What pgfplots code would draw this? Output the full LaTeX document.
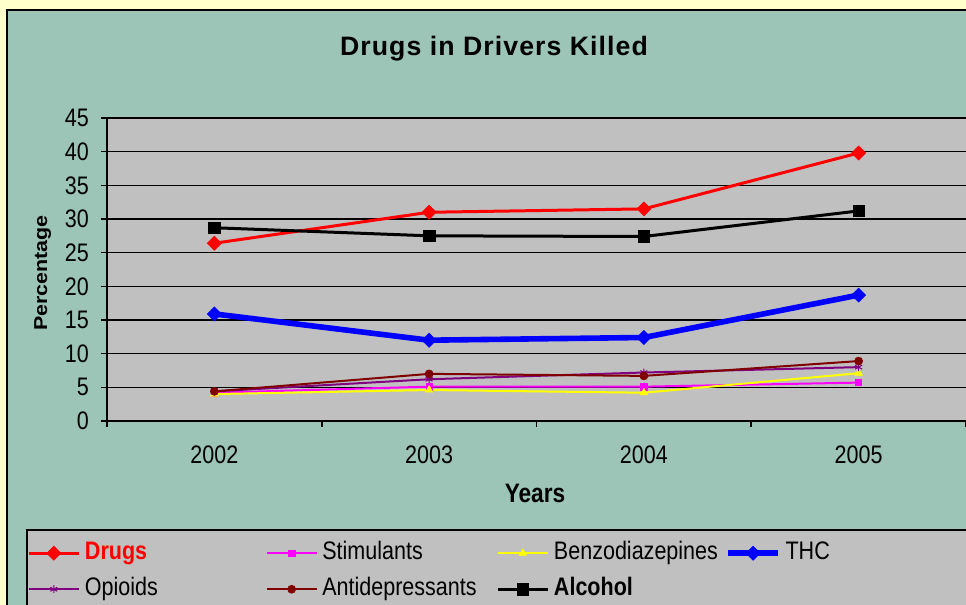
\documentclass[border=0pt]{standalone}
\usepackage{pgfplots}
\pgfplotsset{compat=1.18}
\usepackage{fontspec}
\setmainfont{Liberation Sans}[FakeStretch=0.85]
\newfontfamily\titlefont{Liberation Sans}[LetterSpace=4]
\newfontfamily\ylabfont{Liberation Sans}[FakeStretch=1.15]
\definecolor{outerbg}{HTML}{FFFFCC}
\definecolor{panel}{HTML}{9CC5B7}
\definecolor{plotgray}{HTML}{C0C0C0}
\definecolor{drugred}{HTML}{FF0000}
\definecolor{stim}{HTML}{FF00FF}
\definecolor{benzo}{HTML}{FFFF00}
\definecolor{thc}{HTML}{0000FF}
\definecolor{opioid}{HTML}{800080}
\definecolor{antidep}{HTML}{800000}
\begin{document}
\begin{tikzpicture}
\useasboundingbox (0,0) rectangle (724.5pt,453.75pt);
\clip (0,0) rectangle (724.5pt,453.75pt);
\fill[outerbg] (0,0) rectangle (724.5pt,453.75pt);
\draw[line width=1.5pt, fill=panel] (5.25pt,-10pt) rectangle (740pt,446.25pt);
\draw[line width=1.2pt, fill=plotgray] (20.25pt,-10pt) rectangle (740pt,56.25pt);
\node[font=\titlefont\bfseries\fontsize{20}{24}\selectfont, anchor=base] at (370.5pt,412pt) {Drugs in Drivers Killed};
\node[font=\bfseries\fontsize{20}{24}\selectfont, anchor=base] at (401.25pt,76.5pt) {Years};
\node[font=\ylabfont\bfseries\fontsize{14}{17}\selectfont, anchor=base, rotate=90] at (35.25pt,249pt) {Percentage};
\begin{axis}[
  at={(80.25pt,138pt)}, anchor=south west,
  scale only axis, width=644.25pt, height=227.25pt,
  xmin=-0.5, xmax=3.5, ymin=0, ymax=45,
  axis background/.style={fill=plotgray},
  axis lines*=left,
  axis line style={-, black, line width=1.2pt},
  tick style={black, line width=1.2pt},
  tick align=outside, major tick length=4.5pt,
  xtick={-0.5,0.5,1.5,2.5,3.5}, xticklabels={},
  extra x ticks={0,1,2,3},
  extra x tick labels={2002,2003,2004,2005},
  extra x tick style={major tick length=0pt, grid=none},
  ytick={0,5,...,45},
  ymajorgrids, major grid style={black, line width=1.2pt},
  /pgf/number format/assume math mode=true,
  tick label style={font=\fontsize{19}{22}\selectfont, inner sep=0pt},
  xticklabel style={anchor=north, yshift=-18.75pt},
  yticklabel style={anchor=east, xshift=-9pt},
  legend columns=4,
  legend cell align=left,
  legend style={at={(-0.0931,-0.396)}, anchor=north west, draw=none, fill=none,
    inner sep=0pt, column sep=0pt, row sep=9pt,
    nodes={inner xsep=3.5pt, inner ysep=0pt, text height=14pt, text depth=4pt,
      font=\fontsize{19}{22}\selectfont}},
  legend image code/.code={\draw[mark repeat=2,mark phase=2,#1] plot coordinates {(0pt,0pt) (18.75pt,0pt) (37.5pt,0pt)};},
]
\addplot[drugred, line width=2.25pt, mark=square*, mark size=3.7pt, mark options={rotate=45, line width=0.5pt, solid}]
  coordinates {(0,26.4) (1,31.0) (2,31.5) (3,39.8)};
\addlegendentry{\makebox[132pt][l]{\textcolor{drugred}{\bfseries Drugs}}}
\addplot[stim, line width=1.5pt, mark=square*, mark size=2.4pt, mark options={line width=0.5pt, solid}]
  coordinates {(0,4.2) (1,5.1) (2,5.1) (3,5.7)};
\addlegendentry{\makebox[127pt][l]{Stimulants}}
\addplot[benzo, line width=1.5pt, mark=triangle*, mark size=3.2pt, mark options={line width=0.5pt, solid}]
  coordinates {(0,4.0) (1,4.6) (2,4.2) (3,7.1)};
\addlegendentry{\makebox[125pt][l]{Benzodiazepines}}
\addplot[thc, line width=4.2pt, mark=square*, mark size=3.7pt, mark options={rotate=45, line width=0.5pt, solid}]
  coordinates {(0,15.9) (1,12.0) (2,12.4) (3,18.7)};
\addlegendentry{\makebox[125pt][l]{THC}}
\addplot[opioid, line width=1.5pt, mark=asterisk, mark size=3pt, mark options={line width=0.8pt, solid}]
  coordinates {(0,4.4) (1,6.2) (2,7.2) (3,8.0)};
\addlegendentry{\makebox[132pt][l]{Opioids}}
\addplot[antidep, line width=1.5pt, mark=*, mark size=3pt, mark options={line width=0.5pt, solid}]
  coordinates {(0,4.4) (1,7.0) (2,6.7) (3,8.9)};
\addlegendentry{\makebox[127pt][l]{Antidepressants}}
\addplot[black, line width=2.25pt, mark=square*, mark size=4.3pt, mark options={line width=0.5pt, solid}]
  coordinates {(0,28.7) (1,27.5) (2,27.4) (3,31.2)};
\addlegendentry{\makebox[125pt][l]{\bfseries Alcohol}}
\end{axis}
\end{tikzpicture}
\end{document}
